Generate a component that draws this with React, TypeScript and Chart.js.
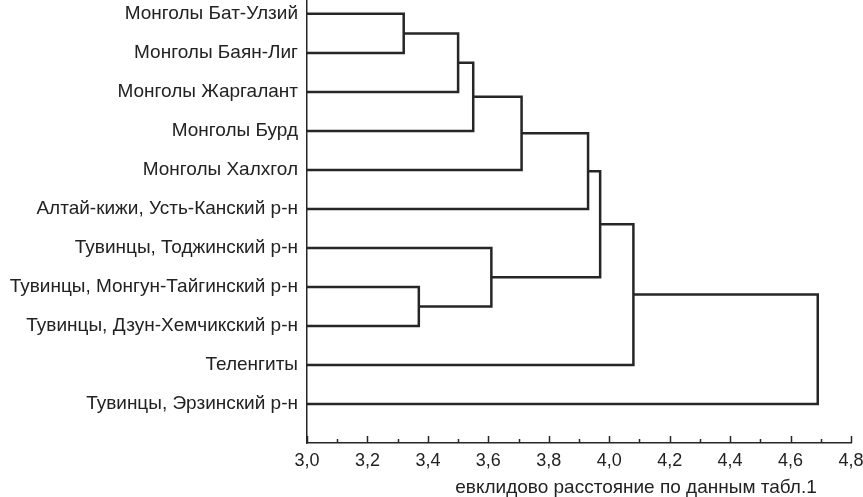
import React, { useEffect, useRef } from 'react';
import { Chart, registerables } from 'chart.js';

Chart.register(...registerables);

// Leaves of the dendrogram, top to bottom
const LEAF_LABELS = [
  'Монголы Бат-Улзий',
  'Монголы Баян-Лиг',
  'Монголы Жаргалант',
  'Монголы Бурд',
  'Монголы Халхгол',
  'Алтай-кижи, Усть-Канский р-н',
  'Тувинцы, Тоджинский р-н',
  'Тувинцы, Монгун-Тайгинский р-н',
  'Тувинцы, Дзун-Хемчикский р-н',
  'Теленгиты',
  'Тувинцы, Эрзинский р-н',
];

// Merges: node ids 0..10 are leaves, merge k creates node 11 + k
const MERGE_LEFT = [0, 11, 12, 13, 14, 7, 6, 15, 18, 19];
const MERGE_RIGHT = [1, 2, 3, 4, 5, 8, 16, 17, 9, 10];
const MERGE_HEIGHT = [3.32, 3.5, 3.55, 3.71, 3.93, 3.37, 3.61, 3.97, 4.08, 4.69];

const X_MIN = 3.0;
const X_MAX = 4.8;
const X_MAJOR_STEP = 0.2;
const X_MINOR_STEP = 0.1;
const X_TITLE = 'евклидово расстояние по данным табл.1';

const FONT = '"Liberation Sans", Arial, sans-serif';
const INK = '#262626';

function buildLinks() {
  const nodeX: number[] = LEAF_LABELS.map(() => X_MIN);
  const nodeY: number[] = LEAF_LABELS.map((_, i) => i);
  const links: { x: number; y: number }[][] = [];
  MERGE_HEIGHT.forEach((h, k) => {
    const a = MERGE_LEFT[k];
    const b = MERGE_RIGHT[k];
    links.push([
      { x: nodeX[a], y: nodeY[a] },
      { x: h, y: nodeY[a] },
      { x: h, y: nodeY[b] },
      { x: nodeX[b], y: nodeY[b] },
    ]);
    nodeX.push(h);
    nodeY.push((nodeY[a] + nodeY[b]) / 2);
  });
  return links;
}

const decorPlugin = {
  id: 'decor',
  afterDraw(chart: any) {
    const { ctx, chartArea } = chart;
    const xs = chart.scales.x;
    ctx.save();
    ctx.strokeStyle = INK;
    ctx.lineWidth = 1.5;
    const n = Math.round((X_MAX - X_MIN) / X_MINOR_STEP);
    for (let i = 0; i <= n; i++) {
      const v = X_MIN + i * X_MINOR_STEP;
      const px = Math.round(xs.getPixelForValue(v)) + 0.5;
      const len = i % 2 === 0 ? 7 : 4;
      ctx.beginPath();
      ctx.moveTo(px, chartArea.bottom);
      ctx.lineTo(px, chartArea.bottom - len);
      ctx.stroke();
    }
    ctx.font = `19px ${FONT}`;
    ctx.fillStyle = '#222';
    ctx.textAlign = 'center';
    ctx.textBaseline = 'alphabetic';
    ctx.fillText(X_TITLE, 636, 493);
    ctx.restore();
  },
};

export default function App() {
  const canvasRef = useRef<HTMLCanvasElement | null>(null);

  useEffect(() => {
    document.body.style.margin = '0';
    const canvas = canvasRef.current;
    if (!canvas) return;
    const links = buildLinks();
    const chart = new Chart(canvas, {
      type: 'scatter',
      data: {
        datasets: links.map((pts) => ({
          data: pts,
          showLine: true,
          borderColor: INK,
          borderWidth: 2.5,
          pointRadius: 0,
          pointHoverRadius: 0,
          fill: false,
          tension: 0,
        })),
      },
      options: {
        animation: false,
        responsive: true,
        maintainAspectRatio: false,
        layout: { padding: { top: 1, right: 12, bottom: 0, left: 0 } },
        plugins: {
          legend: { display: false },
          tooltip: { enabled: false },
          title: { display: false },
        },
        scales: {
          x: {
            type: 'linear',
            min: X_MIN,
            max: X_MAX,
            grid: { display: false, drawTicks: false },
            border: { display: true, color: INK, width: 1.5 },
            ticks: {
              stepSize: X_MAJOR_STEP,
              autoSkip: false,
              maxRotation: 0,
              padding: 7,
              color: '#222',
              font: { family: FONT, size: 18 },
              callback: (v: any) => Number(v).toFixed(1).replace('.', ','),
            },
            afterFit: (s: any) => {
              s.height = 54;
              s.paddingLeft = 0;
              s.paddingRight = 0;
            },
          },
          y: {
            type: 'linear',
            reverse: true,
            min: -0.33,
            max: 11,
            grid: { display: false, drawTicks: false },
            border: { display: true, color: INK, width: 1.5 },
            afterBuildTicks: (s: any) => {
              s.ticks = LEAF_LABELS.map((_, i) => ({ value: i }));
            },
            ticks: {
              autoSkip: false,
              padding: 9,
              color: '#222',
              font: { family: FONT, size: 19 },
              callback: (v: any) => LEAF_LABELS[Math.round(Number(v))] ?? '',
            },
            afterFit: (s: any) => {
              s.width = 307;
              s.paddingTop = 0;
              s.paddingBottom = 0;
            },
          },
        },
      },
      plugins: [decorPlugin],
    });
    return () => chart.destroy();
  }, []);

  return (
    <div style={{ position: 'absolute', left: 0, top: 0, width: 863, height: 497 }}>
      <canvas ref={canvasRef} />
    </div>
  );
}
